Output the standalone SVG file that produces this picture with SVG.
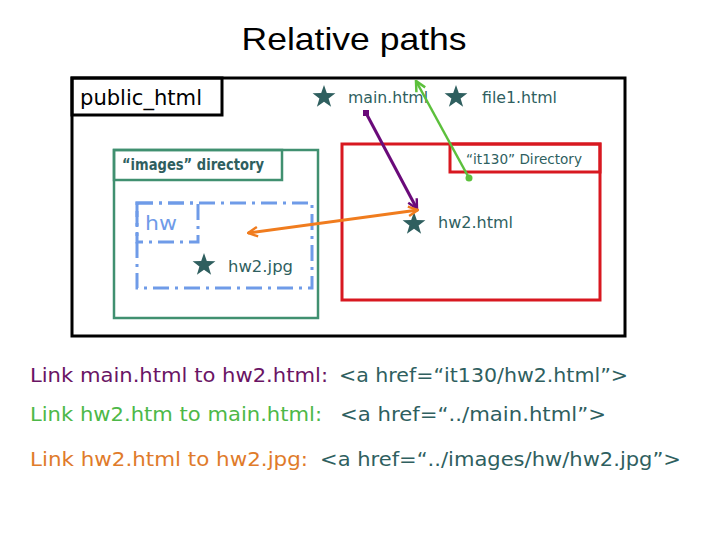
<svg xmlns="http://www.w3.org/2000/svg" width="720" height="540" viewBox="0 0 720 540">
<defs>
<style>
.sans{font-family:"DejaVu Sans","Liberation Sans",sans-serif}
.lbl{font-family:"DejaVu Sans","Liberation Sans",sans-serif;fill:#2f5f5f}
.box{fill:none}
</style>
<path id="star" d="M0,-12 L2.8,-3.9 L11.4,-3.7 L4.6,1.5 L7.1,9.7 L0,4.8 L-7.1,9.7 L-4.6,1.5 L-11.4,-3.7 L-2.8,-3.9 Z" fill="#2f5f5f"/>
<marker id="arrP" viewBox="0 0 10 10" refX="9" refY="5" markerWidth="4" markerHeight="4" orient="auto" markerUnits="strokeWidth"><path d="M1,1 L9,5 L1,9" fill="none" stroke="#6a0a7a" stroke-width="2"/></marker>
<marker id="arrG" viewBox="0 0 10 10" refX="9" refY="5" markerWidth="5" markerHeight="5" orient="auto" markerUnits="strokeWidth"><path d="M1,1 L9,5 L1,9" fill="none" stroke="#5cc03c" stroke-width="2"/></marker>
<marker id="arrO" viewBox="0 0 10 10" refX="9" refY="5" markerWidth="4" markerHeight="4" orient="auto-start-reverse" markerUnits="strokeWidth"><path d="M1,1 L9,5 L1,9" fill="none" stroke="#f07c1e" stroke-width="2"/></marker>
</defs>
<rect width="720" height="540" fill="#ffffff"/>
<text x="354" y="50" text-anchor="middle" font-family="Liberation Sans, Arial, sans-serif" font-size="32" fill="#000" textLength="225" lengthAdjust="spacingAndGlyphs">Relative paths</text>

<g id="public_html">
<rect x="72" y="78" width="553" height="258" class="box" stroke="#000" stroke-width="3"/>
<rect x="72" y="78" width="150" height="37" class="box" stroke="#000" stroke-width="3"/>
<text x="80" y="105" class="sans" font-size="21" fill="#000" textLength="122" lengthAdjust="spacingAndGlyphs">public_html</text>
</g>

<g id="images_dir">
<rect x="114" y="150" width="204" height="168" class="box" stroke="#409070" stroke-width="2.5"/>
<rect x="114" y="150" width="168" height="30" class="box" stroke="#409070" stroke-width="2.5"/>
<text x="122" y="170" class="lbl" font-size="15" font-weight="bold" textLength="142" lengthAdjust="spacingAndGlyphs">“images” directory</text>
</g>

<g id="hw_dir">
<rect x="137" y="203" width="175" height="85" class="box" stroke="#6f9be8" stroke-width="3" stroke-dasharray="16 6 3 6"/>
<rect x="137" y="203" width="61" height="39" class="box" stroke="#6f9be8" stroke-width="3" stroke-dasharray="16 6 3 6"/>
<text x="145" y="230" class="sans" font-size="20" fill="#6f9be8" textLength="32" lengthAdjust="spacingAndGlyphs">hw</text>
</g>

<g id="it130_dir">
<rect x="342" y="144" width="258" height="156" class="box" stroke="#d81820" stroke-width="3"/>
<rect x="450" y="144" width="150" height="28" class="box" stroke="#d81820" stroke-width="3"/>
<text x="466" y="164" class="lbl" font-size="14" textLength="116" lengthAdjust="spacingAndGlyphs">“it130” Directory</text>
</g>

<g id="main_html">
<use href="#star" x="324" y="97"/>
<text x="348" y="103" class="lbl" font-size="16" textLength="80" lengthAdjust="spacingAndGlyphs">main.html</text>
</g>
<g id="file1_html">
<use href="#star" x="456" y="97"/>
<text x="482" y="103" class="lbl" font-size="16" textLength="75" lengthAdjust="spacingAndGlyphs">file1.html</text>
</g>
<g id="hw2_html">
<use href="#star" x="414" y="224"/>
<text x="438" y="228" class="lbl" font-size="16" textLength="75" lengthAdjust="spacingAndGlyphs">hw2.html</text>
</g>
<g id="hw2_jpg">
<use href="#star" x="204" y="265"/>
<text x="228" y="272" class="lbl" font-size="16" textLength="65" lengthAdjust="spacingAndGlyphs">hw2.jpg</text>
</g>

<g id="connectors">
<rect x="363" y="110" width="6" height="6" fill="#6a0a7a"/>
<line x1="366" y1="113" x2="417" y2="209" stroke="#6a0a7a" stroke-width="3" marker-end="url(#arrP)"/>
<circle cx="469" cy="178" r="3.5" fill="#5cc03c"/>
<line x1="469" y1="178" x2="416" y2="81" stroke="#5cc03c" stroke-width="2.5" marker-end="url(#arrG)"/>
<line x1="418" y1="210" x2="248" y2="233" stroke="#f07c1e" stroke-width="3" marker-start="url(#arrO)" marker-end="url(#arrO)"/>
</g>

<g id="notes" class="sans" font-size="20">
<text x="30" y="382" fill="#6a1464" textLength="298" lengthAdjust="spacingAndGlyphs">Link main.html to hw2.html:</text>
<text x="339" y="382" fill="#2f5f5f" textLength="289" lengthAdjust="spacingAndGlyphs">&lt;a href=“it130/hw2.html”&gt;</text>
<text x="30" y="421" fill="#4db848" textLength="292" lengthAdjust="spacingAndGlyphs">Link hw2.htm to main.html:</text>
<text x="340" y="421" fill="#2f5f5f" textLength="266" lengthAdjust="spacingAndGlyphs">&lt;a href=“../main.html”&gt;</text>
<text x="30" y="466" fill="#e07b2a" textLength="278" lengthAdjust="spacingAndGlyphs">Link hw2.html to hw2.jpg:</text>
<text x="320" y="466" fill="#2f5f5f" textLength="361" lengthAdjust="spacingAndGlyphs">&lt;a href=“../images/hw/hw2.jpg”&gt;</text>
</g>
</svg>
